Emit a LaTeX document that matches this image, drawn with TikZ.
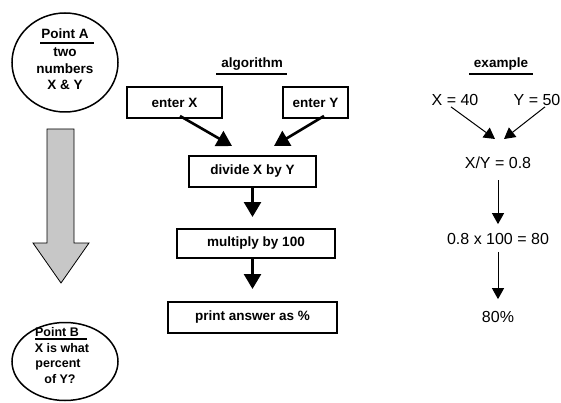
\documentclass[tikz,border=0pt]{standalone}
\usepackage{fontspec}
\setmainfont{Liberation Sans}
\usetikzlibrary{arrows.meta,shapes.geometric,calc}
\begin{document}
\begin{tikzpicture}[x=1pt,y=-1pt,
  stepbox/.style={draw,line width=2pt,minimum height=31pt,inner sep=0pt,font=\bfseries\fontsize{13.5}{15}\selectfont},
  bigarrow/.style={line width=2.6pt,-{Triangle[length=15pt,width=17pt]}},
  thinarrow/.style={line width=1pt,-{Triangle[length=11pt,width=12pt]}},
  ctext/.style={inner sep=0pt,anchor=base,font=\bfseries\fontsize{13.5}{15}\selectfont},
  btext/.style={inner sep=0pt,anchor=base,font=\bfseries\fontsize{12.5}{14}\selectfont},
  ex/.style={inner sep=0pt,font=\fontsize{16}{18}\selectfont},
  head/.style={inner sep=0pt,anchor=base,font=\bfseries\fontsize{13.5}{15}\selectfont}]
\useasboundingbox (0,0) rectangle (561,403);
% left column
\node[draw,ellipse,line width=1.5pt,minimum width=106pt,minimum height=99pt,inner sep=0pt] (ca) at (65,62.5) {};
\node[ctext] (pa) at (65,39) {Point A};
\draw[line width=1.3pt] (40,43) -- (94,43);
\node[ctext] (pa1) at (65,57) {two};
\node[ctext] (pa2) at (65,74) {numbers};
\node[ctext] (pa3) at (65,90) {X \& Y};
\draw[fill=black!22,line width=0.8pt] (47,129) -- (74,129) -- (74,243) -- (89,243) -- (61,283) -- (33,243) -- (47,243) -- cycle;
\node[draw,ellipse,line width=1.5pt,minimum width=106pt,minimum height=78pt,inner sep=0pt] (cb) at (65,361.5) {};
\node[btext] (pb) at (57,336) {Point B};
\draw[line width=1.3pt] (35,339) -- (87,339);
\node[btext] (pb1) at (62,352) {X is what};
\node[btext] (pb2) at (58,367) {percent};
\node[btext] (pb3) at (60,383) {of Y?};
% algorithm
\node[head] (alg) at (252,68) {algorithm};
\draw[line width=1.3pt] (216,74) -- (287,74);
\node[stepbox,minimum width=95pt] (ex) at (174.5,102.5) {enter X};
\node[stepbox,minimum width=65pt] (ey) at (315.5,102.5) {enter Y};
\node[stepbox,minimum width=127pt] (dv) at (252.5,171.5) {divide X by Y};
\node[stepbox,minimum width=158pt,minimum height=29pt] (mu) at (256,243.5) {multiply by 100};
\node[stepbox,minimum width=169pt] (pr) at (252.5,317.5) {print answer as \%};
\coordinate (e1) at (232,146);
\coordinate (e2) at (274,146);
\draw[bigarrow] ($(ex.south)+(5.5,-3)$) -- (e1);
\draw[bigarrow] ($(ey.south)+(8.5,-3)$) -- (e2);
\draw[bigarrow,shorten >=11pt] (dv.south) -- (dv.south |- mu.north);
\draw[bigarrow,shorten >=12pt] (dv.south |- mu.south) -- (dv.south |- pr.north);
% example
\node[head] (exm) at (501,68) {example};
\draw[line width=1.3pt] (469,74) -- (533,74);
\node[ex] (x40) at (455,100) {X = 40};
\node[ex] (y50) at (537,100) {Y = 50};
\node[ex] (xy) at (498,163) {X/Y = 0.8};
\node[ex] (m100) at (498,239) {0.8 x 100 = 80};
\node[ex] (p80) at (498,317) {80\%};
\coordinate (f1) at (495,139);
\coordinate (f2) at (504,139);
\draw[thinarrow] ($(x40.south)+(-4,1)$) -- (f1);
\draw[thinarrow] ($(y50.south)+(8,1)$) -- (f2);
\draw[thinarrow,shorten <=11pt,shorten >=9pt] (xy.south) -- (m100.north);
\draw[thinarrow,shorten <=7pt,shorten >=12pt] (m100.south) -- (p80.north);
\end{tikzpicture}
\end{document}
